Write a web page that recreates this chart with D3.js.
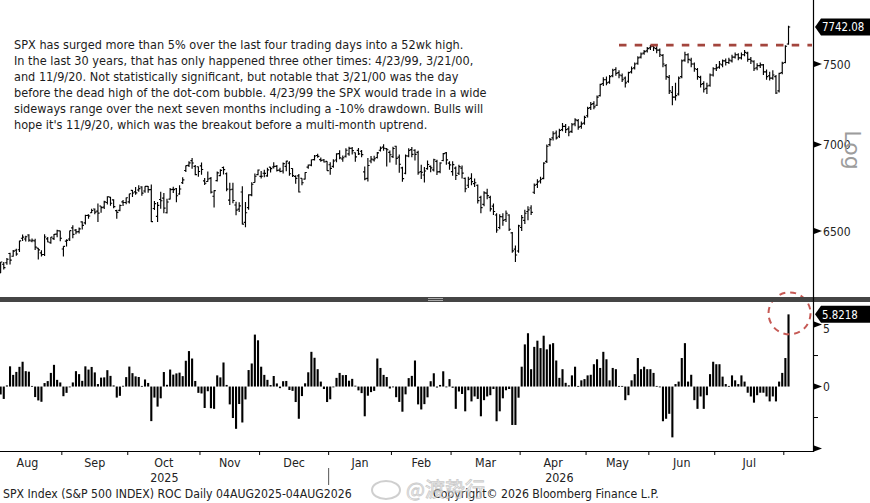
<!DOCTYPE html>
<meta charset="utf-8">
<title>SPX ROC Daily</title>
<script src="https://d3js.org/d3.v7.min.js"></script>
<style>
  body { margin: 0; background: #fff; }
  svg { font-family: "DejaVu Sans", sans-serif; }
</style>
<div id="chart"></div>
<script>
// trading days 04AUG2025 .. 04AUG2026, one entry per session
var closes = [6329.94,6299.19,6345.06,6340.00,6389.45,6373.45,6445.76,6466.58,6468.54,6449.80,
  6449.15,6411.37,6395.78,6370.17,6466.91,6439.32,6465.94,6481.40,6501.86,6460.26,
  6415.54,6448.26,6502.08,6481.50,6495.15,6512.61,6532.04,6587.47,6584.29,6615.28,
  6606.76,6600.35,6631.96,6664.36,6693.75,6656.92,6637.97,6604.72,6643.70,6661.21,
  6688.46,6711.20,6715.35,6715.79,6740.28,6714.59,6753.72,6735.11,6552.51,6654.72,
  6644.31,6671.06,6629.07,6664.01,6735.13,6735.35,6699.40,6738.44,6791.69,6875.16,
  6890.89,6890.59,6822.34,6840.20,6851.97,6771.55,6796.29,6720.32,6728.80,6832.43,
  6846.61,6850.92,6737.49,6734.11,6672.41,6617.32,6642.16,6538.76,6602.99,6705.12,
  6765.88,6812.61,6849.09,6812.63,6829.37,6849.72,6857.12,6870.40,6846.51,6840.51,
  6886.68,6901.00,6827.41,6816.51,6800.26,6721.43,6774.76,6834.50,6878.49,6909.79,
  6932.05,6929.94,6905.74,6896.24,6845.50,6858.47,6902.05,6944.82,6920.93,6921.46,
  6966.28,6977.27,6963.74,6926.60,6944.47,6940.01,6796.86,6875.62,6913.35,6915.61,
  6950.23,6978.60,6978.03,6969.01,6939.03,6976.44,6917.81,6882.72,6798.40,6932.30,
  6964.82,6941.81,6941.47,6832.76,6836.17,6843.22,6881.31,6861.89,6909.51,6837.75,
  6890.07,6946.13,6908.86,6878.88,6881,6817,6869,6831,6740,6795,
  6781,6775,6672,6632,6716,6700,6625,6610,6506,6581,
  6560,6600,6510,6391,6368,6529,6575,6600,6619,6605,
  6760,6780,6795,6890,6990,7030,7065,7040,7085,7110,
  7090,7075,7120,7150,7105,7125,7165,7220,7245,7230,
  7290,7370,7400,7380,7420,7460,7440,7430,7400,7380,
  7445,7470,7500,7540,7565,7580,7600,7612,7605,7590,
  7560,7500,7420,7330,7290,7300,7410,7520,7560,7530,
  7500,7470,7420,7370,7340,7360,7430,7470,7475,7500,
  7520,7510,7525,7545,7560,7540,7560,7575,7530,7520,
  7470,7490,7495,7450,7420,7410,7430,7316,7440,7505,
  7615,7742.08];

var opens = [6271,6318,6326,6376,6361,6394,6397,6460,6456,6478,
  6445,6446,6406,6380,6371,6457,6435,6458,6483,6501,
  6401,6444,6456,6518,6505,6497,6551,6546,6588,6603,
  6624,6612,6641,6635,6661,6692,6676,6615,6616,6665,
  6661,6665,6731,6722,6733,6750,6727,6754,6735,6627,
  6582,6678,6686,6603,6680,6736,6740,6710,6775,6846,
  6876,6904,6870,6868,6873,6786,6782,6800,6697,6787,
  6816,6864,6827,6675,6737,6647,6623,6721,6549,6632,
  6705,6776,6822,6812,6830,6815,6866,6867,6870,6848,
  6843,6870,6890,6858,6811,6815,6801,6796,6866,6878,
  6910,6935,6910,6908,6900,6880,6870,6908,6946,6914,
  6930,6944,6978,6951,6965,6960,6838,6800,6902,6909,
  6923,6966,6985,6975,6953,6928,6990,6925,6862,6830,
  6932,6970,6966,6953,6840,6820,6857,6870,6850,6900,
  6840,6905,6950,6890,6840,6860,6830,6860,6800,6760,
  6800,6770,6760,6690,6650,6715,6690,6640,6590,6520,
  6580,6565,6590,6490,6400,6390,6520,6560,6610,6630,
  6720,6765,6785,6800,6900,7000,7040,7070,7050,7090,
  7110,7095,7080,7125,7145,7110,7130,7175,7225,7250,
  7240,7300,7375,7400,7385,7425,7465,7445,7425,7410,
  7390,7450,7475,7505,7545,7570,7585,7605,7615,7600,
  7590,7555,7490,7415,7320,7290,7310,7420,7525,7560,
  7525,7500,7465,7415,7375,7345,7365,7430,7470,7480,
  7495,7520,7510,7520,7545,7560,7540,7560,7570,7530,
  7515,7475,7490,7495,7450,7425,7410,7420,7330,7445,
  7510,7630];

var highs = [6330,6330,6352,6380,6395,6402,6446,6481,6474,6482,
  6459,6457,6407,6394,6482,6467,6467,6484,6508,6502,
  6416,6454,6502,6533,6511,6520,6555,6592,6594,6626,
  6627,6656,6641,6671,6697,6693,6680,6620,6650,6675,
  6690,6711,6733,6750,6760,6754,6755,6756,6764,6670,
  6664,6722,6715,6682,6745,6752,6744,6760,6807,6876,
  6901,6920,6879,6870,6894,6803,6840,6808,6731,6840,
  6853,6869,6834,6775,6775,6665,6662,6754,6664,6709,
  6777,6829,6852,6843,6851,6862,6867,6895,6878,6862,
  6894,6904,6901,6860,6818,6825,6801,6836,6882,6911,
  6937,6945,6923,6914,6901,6895,6913,6948,6966,6935,
  6978,6987,6986,6953,6979,6967,6870,6920,6932,6933,
  6956,6988,7002,6980,6965,6987,6993,6940,6868,6940,
  6978,6986,6972,6963,6880,6867,6905,6875,6915,6910,
  6895,6950,6955,6900,6900,6870,6880,6875,6805,6810,
  6830,6800,6765,6700,6725,6740,6700,6655,6600,6595,
  6600,6615,6595,6495,6420,6535,6590,6620,6640,6645,
  6770,6795,6810,6895,7000,7040,7080,7085,7095,7130,
  7125,7110,7130,7160,7155,7140,7175,7230,7260,7265,
  7300,7375,7415,7420,7430,7470,7480,7460,7440,7420,
  7450,7485,7510,7550,7575,7590,7610,7623,7622,7615,
  7600,7565,7500,7430,7360,7380,7420,7530,7580,7570,
  7540,7510,7475,7425,7390,7380,7440,7480,7500,7520,
  7530,7535,7540,7560,7575,7570,7575,7590,7580,7545,
  7525,7505,7510,7500,7465,7450,7460,7430,7445,7515,
  7622,7750];

var lows = [6271,6289,6315,6317,6358,6364,6385,6445,6442,6441,
  6438,6396,6343,6360,6363,6438,6430,6451,6466,6444,
  6360,6414,6445,6460,6482,6486,6509,6536,6569,6601,
  6594,6551,6603,6624,6650,6642,6629,6569,6612,6641,
  6651,6656,6693,6706,6723,6700,6717,6717,6550,6619,
  6550,6625,6600,6599,6678,6715,6662,6705,6768,6837,
  6867,6856,6818,6810,6822,6762,6781,6713,6632,6782,
  6813,6823,6725,6647,6657,6589,6607,6536,6521,6620,
  6697,6776,6818,6799,6807,6810,6835,6858,6841,6836,
  6829,6842,6815,6808,6769,6719,6760,6793,6856,6871,
  6905,6921,6898,6893,6844,6822,6862,6895,6913,6897,
  6923,6934,6941,6897,6937,6924,6789,6782,6889,6899,
  6917,6958,6963,6870,6894,6920,6880,6833,6781,6824,
  6925,6925,6905,6821,6796,6776,6850,6836,6840,6820,
  6830,6900,6880,6850,6815,6790,6820,6800,6720,6745,
  6760,6750,6655,6600,6640,6680,6610,6590,6490,6510,
  6530,6550,6500,6380,6330,6380,6500,6540,6560,6590,
  6710,6745,6770,6795,6890,6990,7025,7030,7040,7080,
  7070,7050,7070,7110,7090,7095,7120,7165,7210,7215,
  7235,7295,7360,7365,7375,7415,7425,7410,7385,7350,
  7380,7440,7465,7495,7535,7560,7575,7590,7585,7570,
  7545,7480,7400,7310,7240,7270,7300,7410,7515,7505,
  7480,7450,7400,7350,7320,7310,7355,7420,7455,7470,
  7480,7490,7500,7510,7535,7525,7530,7550,7515,7500,
  7455,7460,7475,7430,7400,7395,7400,7310,7320,7435,
  7505,7625];

// 4-day rate of change, %
var roc = [-0.64,-1.00,0.09,1.63,0.94,1.18,1.59,2.00,1.24,1.20,
  0.05,-0.85,-1.12,-1.23,0.28,0.44,1.10,1.75,0.54,0.33,
  -0.78,-0.51,0.00,0.33,1.24,1.00,0.46,1.63,1.37,1.58,
  1.14,0.20,0.72,0.74,1.32,0.86,0.09,-0.89,-0.75,0.06,
  0.76,1.61,1.08,0.82,0.77,0.05,0.57,0.29,-2.79,-0.89,
  -1.62,-0.95,1.17,0.14,1.37,0.96,1.06,1.12,0.84,2.08,
  2.86,2.26,0.45,-0.51,-0.56,-1.73,-0.38,-1.75,-1.80,0.90,
  0.74,1.94,0.13,-1.44,-2.54,-3.41,-1.41,-2.90,-1.04,1.33,
  1.86,4.19,3.73,1.60,0.94,0.54,0.12,0.85,0.25,-0.13,
  0.43,0.45,-0.28,-0.35,-1.25,-2.60,-0.77,0.26,1.15,2.80,
  2.32,1.40,0.40,-0.20,-1.25,-1.03,-0.05,0.70,1.10,0.92,
  0.93,0.47,0.62,0.07,-0.31,-0.53,-2.40,-0.74,-0.45,-0.35,
  2.26,1.50,0.94,0.77,-0.16,-0.03,-0.86,-1.24,-2.03,-0.63,
  0.68,0.86,2.10,-1.44,-1.85,-1.42,-0.87,0.43,1.07,-0.08,
  0.13,1.23,-0.01,0.60,-0.1,-1.8,-0.4,-0.6,-2.0,-0.3,
  -1.2,-0.8,-1.0,-2.4,-1.1,-0.8,-0.7,-0.2,-2.8,-2.0,
  -0.95,-0.3,-0.2,-3.1,-3.1,-0.9,1.6,3.4,4.3,1.4,
  3.2,3.7,3.1,4.1,3.0,3.4,3.5,2.1,0.7,1.4,
  0.3,0.1,0.9,1.6,0.05,0.5,0.6,0.9,0.95,1.8,
  2.2,1.5,2.8,2.2,0.5,1.5,1.4,0.05,0.05,-1.1,
  -0.7,0.5,1.0,2.3,1.4,1.6,1.4,1.4,1.1,0.05,
  -0.05,-2.8,-2.6,-2.2,-4.1,0.2,0.4,2.3,3.5,0.4,
  0.95,-1.1,-1.8,-0.8,-1.8,-0.7,1.0,2.0,1.8,1.8,
  0.8,0.2,0.05,0.9,0.5,0.2,0.9,0.4,-0.5,-0.8,
  -1.3,-0.7,-0.5,-0.5,-0.8,-1.2,-0.8,-1.2,0.4,1.1,
  2.3,5.8218];

// first session index of each month
var monthStarts = [0, 20, 41, 64, 83, 105, 125, 144, 166, 187, 207, 228, 250];
var monthNames = ["Aug","Sep","Oct","Nov","Dec","Jan","Feb","Mar","Apr","May","Jun","Jul","Aug"];
var years = [{label: "2025", from: 0, to: 105}, {label: "2026", from: 105, to: 252}];

var priceTicks = [6500, 7000, 7500];
var rocTicks = [-5, 0, 5];
var rocMinor = [-2.5, 2.5];
var rocLabels = [0, 5];

var highLevel = 7623, highFrom = 197;   // 52wk high line

var note = [
  "SPX has surged more than 5% over the last four trading days into a 52wk high.",
  "In the last 30 years, that has only happened three other times: 4/23/99, 3/21/00,",
  "and 11/9/20. Not statistically significant, but notable that 3/21/00 was the day",
  "before the dead high of the dot-com bubble. 4/23/99 the SPX would trade in a wide",
  "sideways range over the next seven months including a -10% drawdown. Bulls will",
  "hope it's 11/9/20, which was the breakout before a multi-month uptrend."
];

var W = 870, H = 503, right = 813;
var svg = d3.select("#chart").append("svg").attr("width", W).attr("height", H);

var x = d3.scaleLinear().domain([-0.2, 258.8]).range([0, right]);
var yP = d3.scaleLog().domain([6143, 7923]).range([297, 0]);
var yR = d3.scaleLinear().domain([-5.2, 6.9]).range([451, 301]);

// squeeze DejaVu towards the narrower Bloomberg face
function condense(sel, k) {
  sel.each(function() {
    var w = this.getComputedTextLength();
    d3.select(this).attr("textLength", w * k).attr("lengthAdjust", "spacingAndGlyphs");
  });
}

var defs = svg.append("defs");
defs.append("clipPath").attr("id", "clipTop").append("rect")
  .attr("x", 0).attr("y", 0).attr("width", right).attr("height", 297);
defs.append("clipPath").attr("id", "clipBot").append("rect")
  .attr("x", 0).attr("y", 302).attr("width", right).attr("height", 149);

var idx = d3.range(closes.length);

// price bars
var topG = svg.append("g").attr("clip-path", "url(#clipTop)");
topG.selectAll("path.ohlc").data(idx).enter().append("path")
  .attr("class", "ohlc")
  .attr("fill", "none")
  .attr("stroke", "#000")
  .attr("stroke-width", 1.15)
  .attr("d", function(i) {
    var xi = x(i);
    return "M" + xi + "," + yP(highs[i]) + "V" + yP(lows[i]) +
      "M" + (xi - 1.7) + "," + yP(opens[i]) + "H" + xi +
      "M" + xi + "," + yP(closes[i]) + "H" + (xi + 1.7);
  });

// 52wk high
svg.append("line")
  .attr("x1", x(highFrom)).attr("x2", right - 1)
  .attr("y1", yP(highLevel)).attr("y2", yP(highLevel))
  .attr("stroke", "#a3453d").attr("stroke-width", 2.8)
  .attr("stroke-dasharray", "7.5,8.2");

// note
var noteG = svg.append("g");
noteG.selectAll("text").data(note).enter().append("text")
  .attr("x", 14)
  .attr("y", function(d, i) { return 49 + i * 16; })
  .attr("font-size", 12.8)
  .attr("fill", "#1c1c1c")
  .text(function(d) { return d; })
  .call(condense, 0.885);

// ROC bars
var botG = svg.append("g").attr("clip-path", "url(#clipBot)");
botG.selectAll("rect").data(idx).enter().append("rect")
  .attr("x", function(i) { return x(i) - 1.05; })
  .attr("width", 2.1)
  .attr("y", function(i) { return Math.min(yR(0), yR(roc[i])); })
  .attr("height", function(i) { return Math.max(0.8, Math.abs(yR(roc[i]) - yR(0))); })
  .attr("fill", "#000");

// highlight ring
svg.append("circle")
  .attr("cx", x(251) + 1).attr("cy", yR(5.8218) - 1).attr("r", 21)
  .attr("fill", "none").attr("stroke", "#c65a55").attr("stroke-width", 2)
  .attr("stroke-dasharray", "6,5");

// panel separator
svg.append("rect").attr("x", 0).attr("y", 297).attr("width", W).attr("height", 5).attr("fill", "#454545");
svg.append("line").attr("x1", 428).attr("x2", 443).attr("y1", 298.5).attr("y2", 298.5).attr("stroke", "#aaa");
svg.append("line").attr("x1", 428).attr("x2", 443).attr("y1", 300.5).attr("y2", 300.5).attr("stroke", "#aaa");

// right axis
svg.append("line").attr("x1", right + 0.5).attr("x2", right + 0.5).attr("y1", 0).attr("y2", 452)
  .attr("stroke", "#000").attr("stroke-width", 1.2);

function tri(y) { return "M" + (right + 1) + "," + (y - 3) + "L" + (right + 9) + "," + y + "L" + (right + 1) + "," + (y + 3) + "Z"; }

var pt = svg.append("g");
priceTicks.forEach(function(v) {
  pt.append("path").attr("d", tri(yP(v))).attr("fill", "#000");
  pt.append("text").attr("x", right + 10).attr("y", yP(v)).attr("dy", "0.36em")
    .attr("font-size", 12.6).attr("fill", "#222").text(v);
});
rocTicks.forEach(function(v) {
  pt.append("path").attr("d", tri(yR(v))).attr("fill", "#000");
});
rocMinor.forEach(function(v) {
  pt.append("line").attr("x1", right).attr("x2", right + 5).attr("y1", yR(v)).attr("y2", yR(v))
    .attr("stroke", "#000");
});
rocLabels.forEach(function(v) {
  pt.append("text").attr("x", right + 10).attr("y", yR(v) + (v === 5 ? 4 : 0)).attr("dy", "0.36em")
    .attr("font-size", 12.6).attr("fill", "#222").text(v);
});
pt.selectAll("text").call(condense, 0.86);

svg.append("text")
  .attr("transform", "translate(845,150) rotate(90)")
  .attr("text-anchor", "middle")
  .attr("font-size", 22).attr("fill", "#9c9c9c")
  .text("Log");

// last value tags
function tag(y, label) {
  svg.append("path")
    .attr("d", "M" + (right + 2) + "," + y + "L" + (right + 8) + "," + (y - 8.5) + "H" + W + "V" + (y + 8.5) + "H" + (right + 8) + "Z")
    .attr("fill", "#000");
  svg.append("text").attr("x", right + 9).attr("y", y).attr("dy", "0.36em")
    .attr("font-size", 12.2).attr("fill", "#fff").text(label)
    .call(condense, 0.84);
}
tag(yP(closes[closes.length - 1]), "7742.08");
tag(yR(roc[roc.length - 1]), "5.8218");

// time axis
svg.append("line").attr("x1", 0).attr("x2", right).attr("y1", 451.5).attr("y2", 451.5)
  .attr("stroke", "#000").attr("stroke-width", 1.2);

var ax = svg.append("g");
monthStarts.slice(1).forEach(function(s) {
  ax.append("line").attr("x1", x(s - 0.5)).attr("x2", x(s - 0.5)).attr("y1", 451).attr("y2", 455)
    .attr("stroke", "#000");
});
monthStarts.forEach(function(s, k) {
  if (k === monthStarts.length - 1) return;
  var e = monthStarts[k + 1] - 1;
  ax.append("text").attr("x", x((s + e) / 2) - (k === 0 ? 3 : 0)).attr("y", 467)
    .attr("text-anchor", "middle").attr("font-size", 12.8).attr("fill", "#222")
    .text(monthNames[k]);
});
years.forEach(function(yr) {
  var a = Math.max(0, x(yr.from - 0.5)), b = Math.min(right, x(yr.to - 0.5));
  ax.append("text").attr("x", (a + b) / 2).attr("y", 482)
    .attr("text-anchor", "middle").attr("font-size", 12.8).attr("fill", "#222")
    .text(yr.label);
});
ax.selectAll("text").call(condense, 0.87);
ax.append("line").attr("x1", x(years[1].from - 0.5)).attr("x2", x(years[1].from - 0.5))
  .attr("y1", 468).attr("y2", 485).attr("stroke", "#555");

// footer
var foot = svg.append("g").attr("font-size", 12.6).attr("fill", "#222");
foot.append("text").attr("x", 3).attr("y", 498)
  .text("SPX Index (S&P 500 INDEX) ROC Daily 04AUG2025-04AUG2026");
foot.append("text").attr("x", 433).attr("y", 498)
  .text("Copyright\u00a9 2026 Bloomberg Finance L.P.");
foot.selectAll("text").call(condense, 0.87);

// watermark
var wm = svg.append("g").attr("opacity", 0.7);
wm.append("ellipse").attr("cx", 386).attr("cy", 490).attr("rx", 14).attr("ry", 9)
  .attr("fill", "none").attr("stroke", "#bbb").attr("stroke-width", 2);
wm.append("text").attr("x", 406).attr("y", 497)
  .attr("font-family", "Noto Sans CJK SC").attr("font-size", 20)
  .attr("fill", "#f2f2f2").attr("stroke", "#b5b5b5").attr("stroke-width", 0.8)
  .text("@渡势行");
</script>
